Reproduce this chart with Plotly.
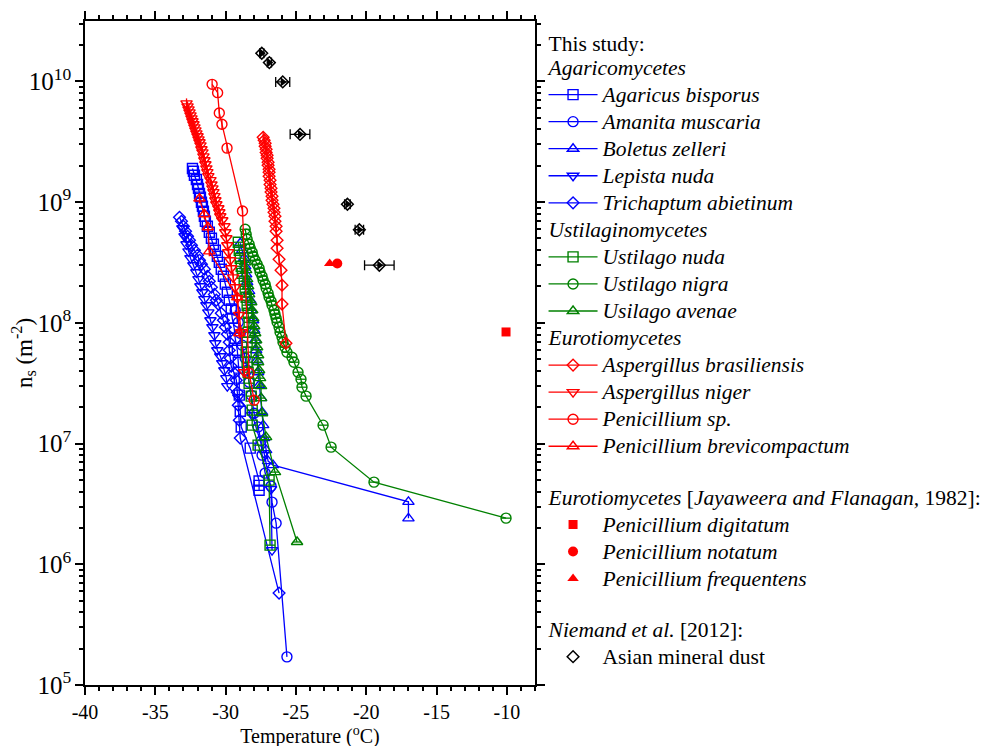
import plotly.graph_objects as go

# ---------------- data (Temperature in degC, ns in m^-2) ----------------
agaricus_T = [-32.36, -32.29, -32.22, -32.08, -32.00, -31.93, -31.86, -31.79, -31.72, -31.65,
              -31.58, -31.51, -31.44, -31.30, -31.16, -31.01, -30.87, -30.73, -30.59, -30.45,
              -30.31, -30.16, -30.02, -29.88, -29.74, -29.60, -29.53, -29.39, -29.32, -29.17,
              -29.10, -29.03, -29.03, -28.96, -28.89, -28.25, -27.62, -27.62, -27.62]
agaricus_ns = [1.90e9, 1.80e9, 1.67e9, 1.54e9, 1.40e9, 1.30e9, 1.18e9, 1.10e9, 9.96e8, 9.23e8,
               8.39e8, 7.63e8, 6.94e8, 6.30e8, 5.62e8, 5.02e8, 4.47e8, 3.99e8, 3.56e8, 3.17e8,
               2.78e8, 2.43e8, 2.09e8, 1.79e8, 1.54e8, 1.30e8, 1.09e8, 9.02e7, 7.46e7, 5.93e7,
               4.72e7, 3.48e7, 2.52e7, 1.85e7, 1.37e7, 9.16e6, 4.9e6, 4.5e6, 4.1e6]

amanita_T = [-29.32, -29.10, -28.96, -28.82, -28.61, -28.47, -28.33, -28.18, -27.97, -27.69,
             -27.48, -27.41, -27.19, -26.77, -26.70, -26.41, -25.64]
amanita_ns = [1.27e8, 1.01e8, 8.20e7, 6.53e7, 5.09e7, 4.05e7, 3.22e7, 2.52e7, 1.78e7, 1.37e7,
              1.05e7, 8.02e6, 5.69e6, 4.44e6, 3.27e6, 2.19e6, 1.71e5]

boletus_T = [-28.96, -28.82, -28.68, -28.61, -28.54, -28.47, -28.33, -28.25, -28.18, -28.04,
             -27.97, -27.90, -27.83, -27.76, -27.69, -27.62, -27.48, -27.41, -27.33, -27.26,
             -27.12, -26.98, -26.63, -17.0, -17.0]
boletus_ns = [4.56e8, 3.99e8, 3.43e8, 2.94e8, 2.52e8, 2.17e8, 1.83e8, 1.54e8, 1.27e8, 1.05e8,
              8.69e7, 7.18e7, 5.93e7, 4.90e7, 3.90e7, 3.04e7, 2.38e7, 1.82e7, 1.42e7, 1.11e7,
              8.82e6, 7.15e6, 6.63e6, 3.29e6, 2.40e6]

lepista_T = [-33.07, -32.92, -32.78, -32.64, -32.50, -32.29, -32.08, -31.93, -31.79, -31.65,
             -31.51, -31.37, -31.23, -31.08, -30.94, -30.80, -30.73, -30.59, -30.38, -30.24,
             -30.09, -29.95, -29.88, -29.10, -28.11, -27.26, -26.77, -26.70]
lepista_ns = [6.07e8, 5.21e8, 4.47e8, 3.91e8, 3.43e8, 3.00e8, 2.62e8, 2.30e8, 2.01e8, 1.79e8,
              1.57e8, 1.40e8, 1.22e8, 1.05e8, 9.20e7, 7.90e7, 6.78e7, 5.93e7, 5.29e7, 4.63e7,
              4.05e7, 3.48e7, 2.99e7, 2.42e7, 1.72e7, 8.33e6, 4.19e6, 1.31e6]

trichaptum_T = [-33.28, -33.14, -33.00, -32.85, -32.71, -32.57, -32.43, -32.22, -32.00, -31.86,
                -31.72, -31.51, -31.30, -31.16, -31.01, -30.80, -30.66, -30.52, -30.31, -30.16,
                -30.02, -29.88, -29.74, -29.74, -29.67, -29.60, -29.39, -29.24, -29.17, -29.10,
                -29.03, -28.96, -26.20]
trichaptum_ns = [7.48e8, 6.94e8, 6.30e8, 5.73e8, 5.21e8, 4.83e8, 4.39e8, 3.99e8, 3.63e8, 3.30e8,
                 3.06e8, 2.78e8, 2.43e8, 2.21e8, 1.97e8, 1.72e8, 1.54e8, 1.43e8, 1.20e8, 1.05e8,
                 9.20e7, 8.05e7, 6.91e7, 5.93e7, 5.09e7, 4.37e7, 3.83e7, 3.35e7, 2.66e7, 2.08e7,
                 1.56e7, 1.11e7, 5.77e5]

u_nuda_T = [-29.10, -29.03, -28.96, -28.89, -28.82, -28.68, -28.61, -28.54, -28.47, -28.40,
            -28.33, -28.40, -28.47, -28.54, -28.47, -28.40, -28.33, -28.18, -28.11, -28.11,
            -27.69, -26.91, -26.84]
u_nuda_ns = [4.65e8, 3.99e8, 3.43e8, 2.94e8, 2.57e8, 2.21e8, 1.90e8, 1.63e8, 1.40e8, 1.20e8,
             1.01e8, 8.36e7, 6.91e7, 5.71e7, 4.72e7, 3.90e7, 3.16e7, 2.47e7, 1.89e7, 1.42e7,
             9.70e6, 4.98e6, 1.44e6]

u_nigra_T = [-28.61, -28.54, -28.47, -28.33, -28.25, -28.11, -28.04, -27.90, -27.76, -27.62,
             -27.55, -27.41, -27.33, -27.19, -27.12, -26.98, -26.91, -26.77, -26.70, -26.56,
             -26.49, -26.41, -26.34, -26.20, -26.13, -25.99, -25.92, -25.78, -25.64, -25.28,
             -25.14, -24.85, -24.64, -24.57, -24.28, -23.07, -22.50, -19.45, -10.06]
u_nigra_ns = [5.95e8, 5.41e8, 4.92e8, 4.47e8, 4.15e8, 3.84e8, 3.56e8, 3.30e8, 3.06e8, 2.83e8,
              2.62e8, 2.43e8, 2.25e8, 2.09e8, 1.93e8, 1.76e8, 1.63e8, 1.51e8, 1.40e8, 1.27e8,
              1.18e8, 1.09e8, 1.01e8, 9.20e7, 8.36e7, 7.60e7, 6.91e7, 6.28e7, 5.71e7, 5.19e7,
              4.72e7, 3.90e7, 3.41e7, 2.93e7, 2.47e7, 1.42e7, 9.34e6, 4.79e6, 2.41e6]

u_avenae_T = [-28.61, -28.54, -28.47, -28.40, -28.33, -28.18, -28.11, -28.04, -27.97, -27.90,
              -27.83, -27.76, -27.69, -27.69, -27.62, -27.55, -27.48, -27.48, -27.41, -27.12,
              -26.49, -24.92]
u_avenae_ns = [3.17e8, 2.73e8, 2.30e8, 2.01e8, 1.72e8, 1.48e8, 1.27e8, 1.09e8, 9.37e7, 8.20e7,
               7.18e7, 6.28e7, 5.39e7, 4.72e7, 4.05e7, 3.48e7, 2.99e7, 2.38e7, 1.78e7, 1.13e7,
               5.80e6, 1.53e6]

a_bras_T = [-27.33, -27.26, -27.19, -27.19, -27.12, -27.12, -27.05, -27.05, -26.98, -26.98,
            -26.91, -26.91, -26.91, -26.84, -26.84, -26.77, -26.77, -26.70, -26.70, -26.63,
            -26.56, -26.56, -26.49, -26.49, -26.41, -26.41, -26.34, -26.34, -26.20, -26.06,
            -25.99, -25.99, -25.71]
a_bras_ns = [3.44e9, 3.25e9, 3.07e9, 2.90e9, 2.74e9, 2.58e9, 2.44e9, 2.31e9, 2.14e9, 2.02e9,
             1.87e9, 1.77e9, 1.64e9, 1.52e9, 1.40e9, 1.30e9, 1.21e9, 1.12e9, 1.035e9, 9.59e8,
             8.89e8, 8.23e8, 7.63e8, 6.94e8, 6.30e8, 5.73e8, 4.83e8, 4.15e8, 3.36e8, 2.73e8,
             2.05e8, 1.43e8, 6.78e7]

a_niger_T = [-32.78, -32.71, -32.64, -32.57, -32.50, -32.43, -32.36, -32.29, -32.22, -32.15,
             -32.08, -32.00, -31.93, -31.86, -31.79, -31.72, -31.65, -31.58, -31.51, -31.44,
             -31.37, -31.30, -31.23, -31.08, -31.01, -30.94, -30.87, -30.80, -30.73, -30.66,
             -30.52, -30.45, -30.38, -30.24, -30.09, -30.02, -29.95, -29.88, -29.81, -29.67,
             -29.60, -29.46, -29.32, -29.17, -29.03, -28.89, -28.68]
a_niger_ns = [6.57e9, 6.21e9, 5.86e9, 5.54e9, 5.23e9, 4.94e9, 4.67e9, 4.41e9, 4.16e9, 3.93e9,
              3.71e9, 3.51e9, 3.31e9, 3.13e9, 2.95e9, 2.74e9, 2.58e9, 2.39e9, 2.22e9, 2.06e9,
              1.90e9, 1.77e9, 1.64e9, 1.52e9, 1.40e9, 1.30e9, 1.21e9, 1.12e9, 1.035e9, 9.59e8,
              8.89e8, 8.23e8, 7.63e8, 7.07e8, 6.30e8, 5.62e8, 5.02e8, 4.39e8, 3.84e8, 3.30e8,
              2.83e8, 2.38e8, 1.97e8, 1.60e8, 1.16e8, 8.36e7, 3.90e7]

pen_sp_T = [-30.96, -30.57, -30.45, -30.26, -29.90, -28.80, -28.33, -27.97]
pen_sp_ns = [9.45e9, 8.06e9, 5.47e9, 4.41e9, 2.80e9, 8.44e8, 3.83e7, 2.29e7]

pen_brev_T = [-31.86, -31.51, -31.26, -31.16, -29.17, -29.03]
pen_brev_ns = [1.07e9, 7.93e8, 6.19e8, 3.91e8, 1.63e8, 8.20e7]

# Jayaweera and Flanagan (1982)
pen_digit_T = [-10.06]
pen_digit_ns = [8.4e7]
pen_notat_T = [-22.06]
pen_notat_ns = [3.1e8]
pen_freq_T = [-22.6]
pen_freq_ns = [3.1e8]

# Niemand et al. (2012)
dust_T = [-27.43, -26.89, -25.94, -24.71, -21.34, -20.49, -19.07]
dust_ns = [1.71e10, 1.43e10, 9.9e9, 3.64e9, 9.6e8, 5.9e8, 3.0e8]
dust_err = [0.15, 0.15, 0.5, 0.7, 0.2, 0.3, 1.05]

x_tick_vals = [-40, -35, -30, -25, -20, -15, -10]
x_tick_text = ["-40", "-35", "-30", "-25", "-20", "-15", "-10"]

# ---------------- styling ----------------
FONT = "Liberation Serif"
BLUE = "#0000FF"
GREEN = "#008000"
RED = "#FF0000"
LW = 1.3
MS = 10
LEG_FS = 18.5
TXT = "font-family:Liberation Serif;font-size:21.5px"


def leg(text):
    return '<span style="%s">%s</span>' % (TXT, text)


fig = go.Figure()


def series(T, ns, name, color, symbol, group, gtitle=None, inner=None, inner_size=None, size=MS):
    kw = {}
    if gtitle is not None:
        kw["legendgrouptitle"] = dict(text=leg(gtitle), font=dict(family=FONT, size=LEG_FS, color="black"))
    fig.add_trace(go.Scatter(
        x=T, y=ns, mode="lines+markers", name=leg("<i>%s</i>" % name),
        legendgroup=group, line=dict(color=color, width=LW),
        marker=dict(symbol=symbol, size=size, color=color, line=dict(color=color, width=1.4)),
        hoverinfo="x+y", **kw))
    if inner:
        fig.add_trace(go.Scatter(
            x=T, y=ns, mode="markers", showlegend=False, legendgroup=group,
            marker=dict(symbol=inner, size=inner_size, color=color, line=dict(color=color, width=1.3)),
            hoverinfo="skip"))


# Agaricomycetes (blue)
series(agaricus_T, agaricus_ns, "Agaricus bisporus", BLUE, "square-open", "g1",
       gtitle="This study:<br><i>Agaricomycetes</i>")
series(amanita_T, amanita_ns, "Amanita muscaria", BLUE, "circle-open", "g1")
series(boletus_T, boletus_ns, "Boletus zelleri", BLUE, "triangle-up-open", "g1")
series(lepista_T, lepista_ns, "Lepista nuda", BLUE, "triangle-down-open", "g1")
series(trichaptum_T, trichaptum_ns, "Trichaptum abietinum", BLUE, "diamond-open", "g1", size=9)

# Ustilaginomycetes (green)
series(u_nuda_T, u_nuda_ns, "Ustilago nuda", GREEN, "square-open", "g2",
       gtitle="<i>Ustilaginomycetes</i>", inner="line-ew-open", inner_size=MS / 1.4)
series(u_nigra_T, u_nigra_ns, "Ustilago nigra", GREEN, "circle-open", "g2",
       inner="line-ew-open", inner_size=MS / 1.4)
series(u_avenae_T, u_avenae_ns, "Usilago avenae", GREEN, "triangle-up-open", "g2",
       inner="line-ew-open", inner_size=MS * 0.6)

# Eurotiomycetes (red)
series(a_bras_T, a_bras_ns, "Aspergillus brasiliensis", RED, "diamond-open", "g3",
       gtitle="<i>Eurotiomycetes</i>", inner="line-ns-open", inner_size=9 * 0.93, size=9)
series(a_niger_T, a_niger_ns, "Aspergillus niger", RED, "triangle-down-open", "g3",
       inner="line-ns-open", inner_size=MS / 1.4)
series(pen_sp_T, pen_sp_ns, "Penicillium sp.", RED, "circle-open", "g3",
       inner="line-ns-open", inner_size=MS / 1.4)
series(pen_brev_T, pen_brev_ns, "Penicillium brevicompactum", RED, "triangle-up-open", "g3",
       inner="line-ns-open", inner_size=MS / 1.4)

# Jayaweera and Flanagan 1982
fig.add_trace(go.Scatter(
    x=pen_digit_T, y=pen_digit_ns, mode="markers", name=leg("<i>Penicillium digitatum</i>"),
    legendgroup="g4",
    legendgrouptitle=dict(text=leg("<br><i>Eurotiomycetes</i> [<i>Jayaweera and Flanagan,</i> 1982]:"),
                          font=dict(family=FONT, size=LEG_FS, color="black")),
    marker=dict(symbol="square", size=9, color=RED)))
fig.add_trace(go.Scatter(
    x=pen_notat_T, y=pen_notat_ns, mode="markers", name=leg("<i>Penicillium notatum</i>"),
    legendgroup="g4", marker=dict(symbol="circle", size=10, color=RED)))
fig.add_trace(go.Scatter(
    x=pen_freq_T, y=pen_freq_ns, mode="markers", name=leg("<i>Penicillium frequentens</i>"),
    legendgroup="g4", marker=dict(symbol="triangle-up", size=10, color=RED)))

# Niemand et al. 2012
fig.add_trace(go.Scatter(
    x=dust_T, y=dust_ns, mode="markers", name=leg("Asian mineral dust"),
    legendgroup="g5",
    legendgrouptitle=dict(text=leg("<br><i>Niemand et al.</i> [2012]:"),
                          font=dict(family=FONT, size=LEG_FS, color="black")),
    error_x=dict(type="data", array=dust_err, color="black", thickness=1.3, width=5),
    marker=dict(symbol="diamond-open", size=9, color="black", line=dict(color="black", width=1.5))))
fig.add_trace(go.Scatter(
    x=dust_T, y=dust_ns, mode="markers", showlegend=False, legendgroup="g5",
    marker=dict(symbol="triangle-right", size=8, color="black"), hoverinfo="skip"))

axis_common = dict(
    showline=True, linecolor="black", linewidth=1.5, mirror="allticks",
    ticks="outside", ticklen=8, tickwidth=1.5, tickcolor="black",
    showgrid=False, zeroline=False, automargin=False,
    tickfont=dict(family=FONT, size=20, color="black"),
)

# The page body adds an 8 px offset; margins are set so the plot lands where the reference has it.
fig.update_layout(
    width=989, height=746,
    margin=dict(l=77, r=462, t=13, b=69, autoexpand=False),
    paper_bgcolor="white", plot_bgcolor="white",
    font=dict(family=FONT, size=20, color="black"),
    showlegend=True,
    legend=dict(
        x=1.019, xanchor="left", y=0.994, yanchor="top",
        bgcolor="rgba(0,0,0,0)", borderwidth=0,
        tracegroupgap=0, traceorder="grouped", itemwidth=49,
        maxheight=740,
        font=dict(family=FONT, size=LEG_FS, color="black"),
        itemclick=False, itemdoubleclick=False,
    ),
    xaxis=dict(
        range=[-40, -8], tickmode="array", tickvals=x_tick_vals, ticktext=x_tick_text,
        minor=dict(ticks="outside", ticklen=4, tickwidth=1.5, tickcolor="black", dtick=1, tick0=-40, showgrid=False),
        title=dict(text="Temperature (<sup>o</sup>C)", font=dict(family=FONT, size=20, color="black"), standoff=5),
        **axis_common,
    ),
    yaxis=dict(
        type="log", range=[5, 10.5], dtick=1, exponentformat="power",
        minor=dict(ticks="outside", ticklen=4, tickwidth=1.5, tickcolor="black", dtick="D1", showgrid=False),
        title=dict(text="n<sub>s</sub> (m<sup>-2</sup>)", font=dict(family=FONT, size=23, color="black"), standoff=0),
        **axis_common,
    ),
)

fig.write_html("out.html")
